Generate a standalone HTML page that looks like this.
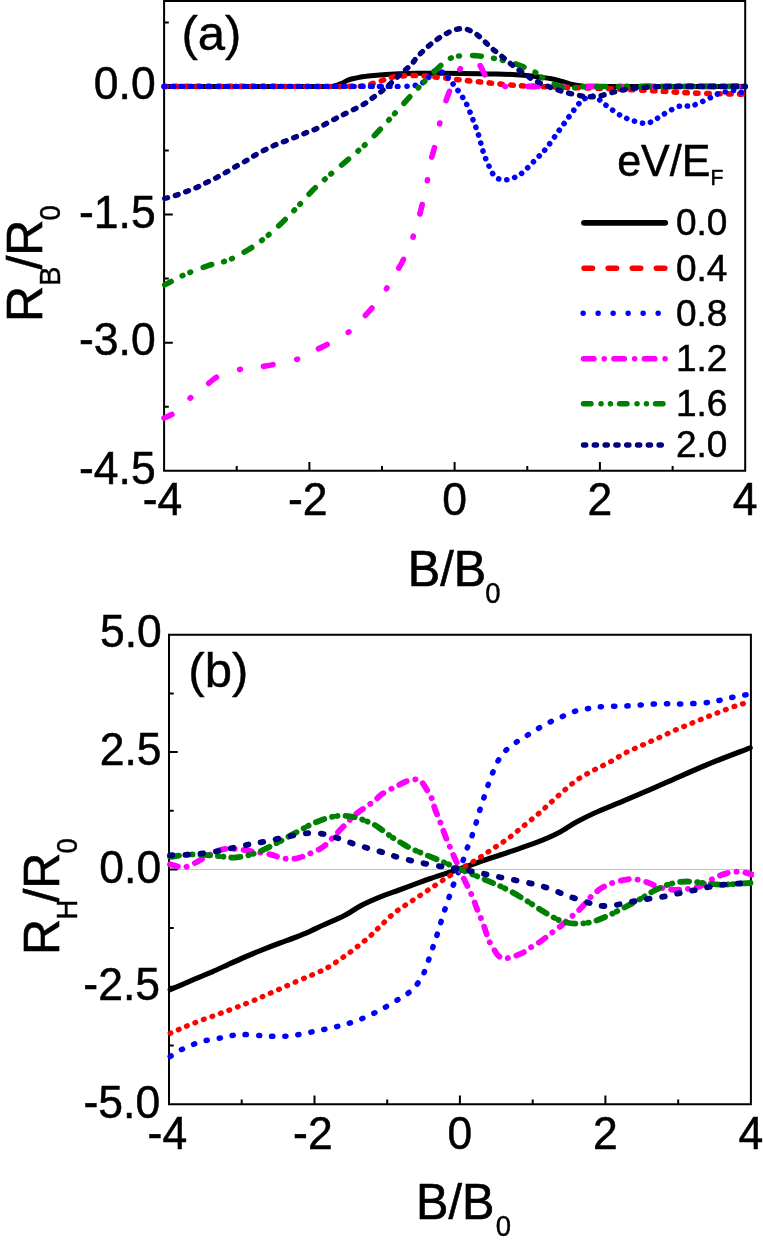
<!DOCTYPE html>
<html><head><meta charset="utf-8"><title>chart</title>
<style>
html,body{margin:0;padding:0;background:#fff;}
body{width:763px;height:1246px;overflow:hidden;}
svg{display:block;will-change:transform;}
text{font-family:"Liberation Sans",sans-serif;fill:#000;}
</style></head><body>
<svg width="763" height="1246" viewBox="0 0 763 1246">
<rect x="0" y="0" width="763" height="1246" fill="#fff"/>

<clipPath id="ca"><rect x="161.1" y="0" width="587.1" height="470.8"/></clipPath>
<g stroke="#000" stroke-width="2.0" fill="none">
<path d="M164.1 1.0H745.2V470.8H164.1Z"/>
<path d="M236.7 470.8v-4.7M309.4 470.8v-8.7M382.0 470.8v-4.7M454.6 470.8v-8.7M527.3 470.8v-4.7M599.9 470.8v-8.7M672.6 470.8v-4.7M164.1 22.5h4.7M164.1 86.5h8.7M164.1 150.6h4.7M164.1 214.6h8.7M164.1 278.6h4.7M164.1 342.7h8.7M164.1 406.8h4.7"/>
</g>
<g clip-path="url(#ca)">
<path d="M164.0 86.4C178.3 86.4 223.2 86.4 250.0 86.4C276.8 86.4 310.8 86.5 325.0 86.4C339.2 86.3 332.2 86.3 335.0 85.8C337.8 85.3 339.7 84.2 342.0 83.2C344.3 82.2 346.5 80.6 348.7 79.8C350.9 79.0 352.4 78.7 355.0 78.2C357.6 77.7 360.8 77.0 364.0 76.6C367.2 76.1 368.2 76.0 374.0 75.5C379.8 75.0 391.6 74.2 399.0 73.8C406.4 73.4 408.4 73.4 418.6 73.3C428.8 73.2 446.9 73.3 460.0 73.4C473.1 73.5 486.4 73.7 497.0 74.0C507.6 74.3 516.5 74.7 523.5 75.2C530.5 75.7 534.3 76.4 539.0 77.0C543.7 77.6 547.7 78.0 551.5 78.8C555.3 79.5 558.3 80.5 562.0 81.5C565.7 82.5 570.2 83.9 573.5 84.7C576.8 85.5 578.9 85.8 582.0 86.1C585.1 86.4 579.0 86.4 592.0 86.4C605.0 86.5 634.5 86.4 660.0 86.4C685.5 86.4 730.8 86.4 745.0 86.4" fill="none" stroke="#000" stroke-width="5.0" stroke-linejoin="round" stroke-linecap="round"/>
<path d="M164.0 86.4C180.0 86.4 228.7 86.4 260.0 86.4C291.3 86.4 334.3 86.6 352.0 86.4C369.7 86.2 361.8 85.9 366.0 85.2C370.2 84.5 373.6 83.3 377.0 82.3C380.4 81.2 383.8 79.8 386.5 78.9C389.2 78.0 390.6 77.5 393.0 77.0C395.4 76.5 398.0 76.2 401.0 76.0C404.0 75.8 406.8 75.5 410.8 75.5C414.8 75.5 420.1 75.7 425.0 76.0C429.9 76.3 433.2 76.8 440.0 77.5C446.8 78.2 457.5 79.6 465.8 80.5C474.1 81.4 482.6 82.2 490.0 83.0C497.4 83.8 502.7 84.4 510.0 85.0C517.3 85.6 521.8 85.9 534.0 86.4C546.2 86.9 564.4 87.2 583.0 87.8C601.6 88.4 627.5 89.4 645.8 90.3C664.1 91.2 676.5 92.3 693.0 93.0C709.5 93.7 736.3 94.0 745.0 94.2" fill="none" stroke="#ff0000" stroke-width="5.6" stroke-linejoin="round" stroke-linecap="round" stroke-dasharray="2.4 8.5"/>
<path d="M164.1 86.4C183.4 86.4 241.0 86.4 280.0 86.4C319.0 86.4 378.3 86.4 398.0 86.4" fill="none" stroke="#0000ff" stroke-width="5.4" stroke-linejoin="round" stroke-linecap="round" stroke-dashoffset="0.9" stroke-dasharray="1.8 7.2"/>
<path d="M407.0 86.3C408.0 86.2 411.2 86.1 413.0 85.8C414.8 85.5 416.5 85.1 418.0 84.6C419.5 84.1 420.7 83.6 422.0 83.0C423.3 82.4 424.8 81.8 425.8 81.0C426.8 80.2 427.2 79.5 428.0 78.5C428.8 77.5 429.5 76.1 430.4 75.0C431.3 73.9 432.4 72.6 433.5 71.8C434.6 71.0 435.6 70.3 436.9 70.3C438.1 70.2 439.7 70.8 441.0 71.5C442.3 72.2 443.6 73.2 444.8 74.2C446.0 75.2 446.9 76.3 448.0 77.5C449.1 78.7 449.8 79.5 451.1 81.2C452.4 83.0 454.6 86.1 456.0 88.0C457.4 89.9 457.9 90.2 459.6 92.8C461.3 95.3 464.0 98.9 466.2 103.3C468.4 107.7 470.7 114.0 472.7 119.0C474.7 124.0 476.2 128.0 478.0 133.4C479.8 138.8 481.5 146.5 483.2 151.7C484.9 156.9 486.4 160.7 488.4 164.8C490.4 169.0 492.4 174.1 495.0 176.6C497.6 179.1 501.1 179.6 504.2 179.8C507.2 180.0 510.2 179.2 513.3 178.0C516.3 176.8 519.0 175.5 522.5 172.7C526.0 169.8 530.4 164.9 534.3 160.9C538.2 156.9 541.7 154.0 546.1 148.5C550.5 143.0 555.5 135.3 560.9 128.0C566.2 120.7 574.0 109.5 578.2 104.5C582.4 99.5 583.6 99.4 586.0 98.0C588.4 96.6 590.4 95.9 592.4 96.0C594.4 96.1 595.9 97.1 598.0 98.5C600.1 99.9 601.2 101.7 605.0 104.5C608.8 107.3 615.9 112.8 620.7 115.5C625.5 118.2 629.8 119.7 634.0 121.0C638.2 122.3 642.5 123.5 645.8 123.4C649.1 123.3 651.4 121.8 654.0 120.5C656.6 119.2 657.6 117.8 661.5 115.5C665.4 113.2 673.2 108.5 677.3 106.9C681.4 105.3 683.4 106.2 686.0 106.0C688.6 105.8 689.2 106.7 693.0 105.5C696.8 104.3 704.5 100.5 708.7 98.6C712.9 96.6 715.2 94.9 718.1 93.8C721.0 92.7 723.4 92.4 726.2 91.8C729.0 91.2 732.7 90.5 735.0 90.4C737.3 90.4 738.4 90.8 740.0 91.5C741.6 92.2 744.0 94.0 744.8 94.5" fill="none" stroke="#0000ff" stroke-width="5.6" stroke-linejoin="round" stroke-linecap="round" stroke-dasharray="0.1 8.1"/>
<path d="M164.0 418.0C165.7 417.2 169.4 416.5 174.0 413.0C178.6 409.5 185.7 402.0 191.5 397.0C197.3 392.0 204.4 386.5 209.0 383.0C213.6 379.5 213.8 378.3 219.0 376.0C224.2 373.7 232.8 371.0 240.0 369.4C247.2 367.8 256.0 367.5 262.0 366.6C268.0 365.7 270.3 365.2 276.0 364.0C281.7 362.8 289.3 361.9 296.0 359.6C302.7 357.3 310.7 352.6 316.0 350.0C321.3 347.4 322.8 346.8 328.0 344.0C333.2 341.2 340.9 338.2 347.5 333.0C354.1 327.8 361.4 320.0 367.6 313.0C373.9 306.0 379.8 298.6 385.0 291.0C390.2 283.4 395.9 272.8 399.0 267.6C402.1 262.4 401.1 264.5 403.3 259.7C405.5 254.9 409.8 245.9 412.4 238.8C415.0 231.7 417.3 223.2 419.0 217.3C420.7 211.4 421.0 209.5 422.4 203.6C423.8 197.7 425.7 189.0 427.1 181.9C428.5 174.8 429.5 166.9 430.8 161.0C432.1 155.1 433.3 152.6 434.7 146.5C436.1 140.4 437.6 131.9 439.4 124.7C441.1 117.5 443.5 108.9 445.2 103.3C446.9 97.7 448.1 94.9 449.6 91.0C451.1 87.1 452.4 83.4 454.0 80.0C455.6 76.6 457.2 73.1 459.0 70.5C460.8 67.9 462.8 65.9 465.0 64.5C467.2 63.1 469.6 62.3 472.0 62.3C474.4 62.3 477.1 62.3 479.3 64.5C481.5 66.7 483.2 72.6 485.3 75.7C487.4 78.8 489.0 81.2 492.0 83.0C495.0 84.8 497.9 85.6 503.4 86.2C508.9 86.8 502.2 86.4 525.0 86.4C547.8 86.4 603.3 86.4 640.0 86.4C676.7 86.4 727.5 86.4 745.0 86.4" fill="none" stroke="#ff00ff" stroke-width="5.6" stroke-linejoin="round" stroke-linecap="round" stroke-dashoffset="1.2" stroke-dasharray="9.9 24.3 0.9 23.1"/>
<path d="M164.7 284.9C166.2 284.1 170.1 282.0 174.0 280.0C177.9 278.0 182.5 275.4 188.3 273.0C194.1 270.6 202.0 267.6 208.8 265.4C215.6 263.2 222.4 262.6 229.2 259.8C236.0 257.0 243.4 252.7 249.7 248.8C256.0 244.9 261.2 240.9 267.0 236.2C272.8 231.5 278.5 226.0 284.3 220.4C290.1 214.8 296.7 207.7 301.6 202.5C306.6 197.3 309.3 193.6 314.0 189.0C318.7 184.4 324.2 179.8 330.0 174.8C335.8 169.8 342.4 164.4 348.7 159.0C355.0 153.6 361.8 147.9 367.6 142.4C373.4 136.9 378.1 131.6 383.3 126.0C388.5 120.4 394.4 113.8 399.0 108.8C403.6 103.8 406.6 100.2 410.8 95.7C415.0 91.2 418.6 87.5 424.0 82.0C429.4 76.5 438.8 67.1 443.5 63.0C448.2 58.9 449.4 58.8 452.0 57.6C454.6 56.4 455.7 56.4 459.0 56.0C462.3 55.6 467.4 55.2 472.0 55.4C476.6 55.6 480.8 56.0 486.8 57.0C492.8 58.0 501.8 60.0 507.8 61.6C513.8 63.2 518.6 65.0 523.0 66.7C527.4 68.4 530.3 69.4 534.0 71.5C537.7 73.6 541.3 77.0 545.0 79.3C548.7 81.5 552.3 83.5 556.0 85.0C559.7 86.5 563.7 87.9 567.0 88.3C570.3 88.7 572.8 87.9 576.0 87.6C579.2 87.3 572.0 86.8 586.0 86.6C600.0 86.4 633.5 86.4 660.0 86.4C686.5 86.4 730.8 86.4 745.0 86.4" fill="none" stroke="#008000" stroke-width="5.6" stroke-linejoin="round" stroke-linecap="round" stroke-dashoffset="1.45" stroke-dasharray="8.9 12.4 0.8 7.7 0.8 13.2"/>
<path d="M164.7 198.5C166.5 198.0 171.9 196.6 175.7 195.4C179.5 194.2 183.6 192.6 187.3 191.2C191.0 189.8 194.4 188.5 197.7 187.0C201.0 185.5 204.0 183.8 207.2 182.2C210.3 180.6 213.5 179.2 216.6 177.6C219.7 175.9 222.8 174.1 226.0 172.3C229.2 170.5 232.2 168.6 235.5 166.7C238.8 164.8 242.9 162.7 246.0 160.8C249.1 159.0 251.2 157.4 254.3 155.6C257.4 153.8 261.4 151.7 264.8 149.9C268.2 148.2 271.4 146.6 274.9 145.1C278.4 143.6 282.2 142.3 285.8 140.9C289.4 139.5 292.8 138.1 296.3 136.7C299.8 135.3 303.3 133.9 306.8 132.5C310.3 131.1 311.8 131.0 317.2 128.3C322.6 125.7 331.9 120.4 339.3 116.6C346.7 112.8 356.0 108.5 361.3 105.6C366.6 102.7 367.9 101.2 371.0 99.0C374.1 96.8 376.8 95.0 380.0 92.5C383.2 90.0 386.5 87.1 390.0 84.0C393.5 80.9 397.4 77.0 400.9 73.8C404.4 70.6 408.1 67.8 410.8 65.0C413.5 62.2 414.8 59.8 417.1 57.2C419.5 54.6 422.2 51.8 424.9 49.3C427.6 46.8 430.4 44.4 433.3 42.2C436.2 40.0 439.0 37.9 442.2 36.0C445.4 34.1 449.1 31.8 452.5 30.6C455.9 29.4 459.3 28.4 462.7 28.6C466.1 28.8 469.6 30.2 472.9 32.0C476.2 33.8 479.4 36.6 482.3 39.1C485.2 41.6 487.4 44.5 490.2 47.0C493.0 49.5 496.0 51.6 498.9 54.0C501.8 56.4 504.6 58.7 507.5 61.1C510.4 63.5 513.2 66.0 516.2 68.2C519.2 70.4 522.9 72.7 525.6 74.5C528.3 76.3 528.3 77.1 532.6 79.3C536.9 81.5 544.2 85.2 551.5 87.8C558.8 90.4 569.3 93.5 576.6 95.0C583.9 96.5 589.2 97.1 595.5 96.6C601.8 96.1 608.6 93.2 614.4 91.9C620.1 90.6 624.1 89.6 630.0 88.8C635.9 88.0 644.8 87.4 650.0 87.0C655.2 86.6 659.6 86.6 661.5 86.5" fill="none" stroke="#000080" stroke-width="5.4" stroke-linejoin="round" stroke-linecap="round" stroke-dasharray="3 8"/>
<path d="M661.5 86.5C667.9 86.5 686.0 86.4 700.0 86.4C714.0 86.4 737.7 86.4 745.2 86.4" fill="none" stroke="#000080" stroke-width="5.8" stroke-linejoin="round" stroke-linecap="round" stroke-dashoffset="-4" stroke-dasharray="3.6 7.6"/>
</g>
<text transform="translate(155.7,99.2) scale(1.0,1.027)" font-size="44.5" text-anchor="end" stroke="#000" stroke-width="0.5">0.0</text>
<text transform="translate(155.7,227.7) scale(1.0,1.027)" font-size="44.5" text-anchor="end" stroke="#000" stroke-width="0.5">-1.5</text>
<text transform="translate(155.7,354.9) scale(1.0,1.027)" font-size="44.5" text-anchor="end" stroke="#000" stroke-width="0.5">-3.0</text>
<text transform="translate(155.7,483.8) scale(1.0,1.027)" font-size="44.5" text-anchor="end" stroke="#000" stroke-width="0.5">-4.5</text>
<text transform="translate(162.5,514.6) scale(1.0,1.027)" font-size="44.5" text-anchor="middle" stroke="#000" stroke-width="0.5">-4</text>
<text transform="translate(307.8,514.6) scale(1.0,1.027)" font-size="44.5" text-anchor="middle" stroke="#000" stroke-width="0.5">-2</text>
<text transform="translate(454.6,514.6) scale(1.0,1.027)" font-size="44.5" text-anchor="middle" stroke="#000" stroke-width="0.5">0</text>
<text transform="translate(599.9,514.6) scale(1.0,1.027)" font-size="44.5" text-anchor="middle" stroke="#000" stroke-width="0.5">2</text>
<text transform="translate(745.2,514.6) scale(1.0,1.027)" font-size="44.5" text-anchor="middle" stroke="#000" stroke-width="0.5">4</text>
<text transform="translate(407.8,585.6) scale(1.03,1.055)" font-size="47.2" text-anchor="start" stroke="#000" stroke-width="0.6">B/B</text>
<text transform="translate(485.2,602.8) scale(1.0,1.07)" font-size="27.5" text-anchor="start" stroke="#000" stroke-width="0.4">0</text>
<g transform="translate(42.3,322.1) rotate(-90)"><text transform="translate(0.0,0.0) scale(1.06,1.075)" font-size="47.2" text-anchor="start" stroke="#000" stroke-width="0.6">R</text><text transform="translate(36.0,18.0) scale(1.06,1.07)" font-size="27.5" text-anchor="start" stroke="#000" stroke-width="0.4">B</text><text transform="translate(52.5,0.0) scale(1.06,1.075)" font-size="47.2" text-anchor="start" stroke="#000" stroke-width="0.6">/R</text><text transform="translate(101.7,18.0) scale(1.0,1.07)" font-size="27.5" text-anchor="start" stroke="#000" stroke-width="0.4">0</text></g>
<text transform="translate(181.4,50.0) scale(1.04,1.023)" font-size="47.2" text-anchor="start" stroke="#000" stroke-width="0.4">(a)</text>
<text transform="translate(617.2,176.4) scale(1.0,1.02)" font-size="43" text-anchor="start" stroke="#000" stroke-width="0.5">eV/E</text>
<text transform="translate(710.5,184.5) scale(1.0,1.04)" font-size="21" text-anchor="start" stroke="#000" stroke-width="0.5">F</text>
<g fill="none" stroke-width="5.4">
<path d="M584.0 222.8H665.2" stroke="#000" stroke-linecap="round" stroke-width="5.8"/>
<path d="M584.0 268.2H668.2" stroke="#ff0000" stroke-linecap="round" stroke-dasharray="8.6 15.5"/>
<path d="M583.1 313.3H668.2" stroke="#0000ff" stroke-linecap="round" stroke-dasharray="0.1 14.9"/>
<path d="M583.5 358.7H669.2" stroke="#ff00ff" stroke-linecap="round" stroke-dasharray="10.5 10.2 0.1 9.6"/>
<path d="M583.5 403.8H666.2" stroke="#008000" stroke-linecap="round" stroke-dasharray="7.5 10 0.1 9.3 0.1 9"/>
<path d="M583.5 445.0H665.2" stroke="#000080" stroke-linecap="round" stroke-dasharray="2.2 8.6"/>
</g>
<text transform="translate(676.0,235.1) scale(1.0,1.0)" font-size="37" text-anchor="start" stroke="#000" stroke-width="0.5">0.0</text>
<text transform="translate(676.0,280.5) scale(1.0,1.0)" font-size="37" text-anchor="start" stroke="#000" stroke-width="0.5">0.4</text>
<text transform="translate(676.0,325.6) scale(1.0,1.0)" font-size="37" text-anchor="start" stroke="#000" stroke-width="0.5">0.8</text>
<text transform="translate(676.0,371.0) scale(1.0,1.0)" font-size="37" text-anchor="start" stroke="#000" stroke-width="0.5">1.2</text>
<text transform="translate(676.0,416.1) scale(1.0,1.0)" font-size="37" text-anchor="start" stroke="#000" stroke-width="0.5">1.6</text>
<text transform="translate(676.0,457.3) scale(1.0,1.0)" font-size="37" text-anchor="start" stroke="#000" stroke-width="0.5">2.0</text>
<clipPath id="cb"><rect x="166.0" y="634.7" width="587.9" height="469.5"/></clipPath>
<path d="M169.0 869.5H750.9" stroke="#c4c4c4" stroke-width="1" fill="none"/>
<g stroke="#000" stroke-width="2.0" fill="none">
<path d="M169.0 634.7H750.9V1104.2H169.0Z"/>
<path d="M241.7 1104.2v-4.7M314.5 1104.2v-8.7M387.2 1104.2v-4.7M459.9 1104.2v-8.7M532.7 1104.2v-4.7M605.4 1104.2v-8.7M678.2 1104.2v-4.7M169.0 693.4h4.7M169.0 752.1h8.7M169.0 810.8h4.7M169.0 869.5h8.7M169.0 928.1h4.7M169.0 986.8h8.7M169.0 1045.5h4.7"/>
</g>
<g clip-path="url(#cb)">
<path d="M170.2 989.7C174.2 988.0 187.0 982.4 194.0 979.4C201.0 976.4 206.5 974.3 212.2 971.8C217.9 969.3 222.6 967.1 228.1 964.6C233.6 962.1 239.3 959.5 245.0 957.0C250.7 954.5 256.4 952.1 262.2 949.8C268.0 947.5 274.3 945.1 280.0 943.0C285.7 940.9 291.1 939.0 296.3 937.0C301.5 935.0 306.5 932.8 311.0 930.8C315.5 928.8 318.0 927.5 323.5 925.0C329.0 922.5 337.8 919.0 344.0 915.8C350.2 912.6 354.8 908.8 361.0 905.6C367.2 902.4 375.2 899.0 381.5 896.4C387.8 893.8 392.2 892.5 398.5 890.2C404.8 887.9 413.4 884.7 419.0 882.6C424.6 880.5 425.6 880.2 432.4 877.9C439.2 875.6 451.2 871.8 460.0 868.8C468.8 865.8 476.4 862.9 484.9 860.0C493.4 857.1 502.3 854.4 511.0 851.4C519.7 848.4 529.4 845.3 537.3 842.2C545.2 839.1 551.8 836.3 558.2 833.0C564.7 829.7 569.9 825.6 576.0 822.3C582.1 819.0 586.2 816.8 594.6 813.0C603.0 809.2 614.5 804.8 626.5 799.7C638.5 794.6 653.1 788.2 666.4 782.4C679.7 776.6 692.3 770.8 706.3 765.0C720.3 759.2 742.9 750.7 750.2 747.8" fill="none" stroke="#000" stroke-width="5.2" stroke-linejoin="round" stroke-linecap="round"/>
<path d="M170.2 1033.3C174.2 1031.6 184.3 1026.9 194.0 1023.1C203.7 1019.3 218.4 1014.2 228.1 1010.5C237.8 1006.8 246.7 1003.3 252.4 1001.0C258.1 998.7 254.9 1000.0 262.2 996.8C269.5 993.6 286.1 986.1 296.3 981.6C306.5 977.1 316.0 973.6 323.5 969.8C331.0 965.9 336.0 962.1 341.3 958.5C346.6 954.9 350.8 951.8 355.5 948.1C360.2 944.4 365.2 940.5 369.7 936.5C374.1 932.5 377.8 928.4 382.2 924.2C386.6 920.0 391.5 915.1 396.4 911.3C401.3 907.5 406.4 904.6 411.5 901.2C416.6 897.8 422.0 894.2 427.2 890.7C432.4 887.2 437.4 883.8 442.9 880.2C448.4 876.6 454.3 872.7 460.0 869.2C465.7 865.7 471.6 862.7 477.0 859.3C482.4 855.9 487.5 852.3 492.7 848.8C497.9 845.3 503.4 842.0 508.4 838.3C513.4 834.6 518.1 830.4 522.9 826.5C527.7 822.6 532.7 818.6 537.3 814.7C541.9 810.8 546.0 806.8 550.4 802.9C554.8 799.0 559.0 795.0 563.5 791.1C568.0 787.2 572.3 783.2 577.3 779.7C582.3 776.2 588.0 773.3 593.3 770.4C598.6 767.5 603.9 765.3 609.2 762.4C614.5 759.5 619.9 755.8 625.2 753.0C630.5 750.2 635.8 748.1 641.1 745.7C646.4 743.3 651.6 741.0 657.1 738.5C662.6 736.0 668.9 733.0 674.4 730.5C679.9 728.0 685.1 726.0 690.4 723.8C695.7 721.6 701.0 719.3 706.3 717.2C711.6 715.1 717.0 713.0 722.3 711.0C727.6 709.0 733.6 706.7 738.2 705.2C742.9 703.7 748.2 702.4 750.2 701.8" fill="none" stroke="#ff0000" stroke-width="5.3" stroke-linejoin="round" stroke-linecap="round" stroke-dasharray="0.8 8.2"/>
<path d="M170.2 1056.5C172.2 1055.3 177.0 1051.8 182.1 1049.3C187.2 1046.8 194.4 1043.7 200.9 1041.8C207.4 1039.9 214.8 1039.0 221.3 1037.8C227.8 1036.6 233.3 1034.9 240.1 1034.6C246.9 1034.2 255.7 1035.4 262.2 1035.7C268.7 1036.0 273.6 1036.6 279.3 1036.5C285.0 1036.4 290.1 1035.9 296.3 1035.0C302.5 1034.1 309.9 1032.3 316.7 1030.9C323.5 1029.5 330.4 1028.2 337.2 1026.5C344.0 1024.8 350.8 1022.9 357.6 1020.4C364.4 1017.9 371.2 1014.7 378.0 1011.2C384.8 1007.7 393.7 1002.2 398.5 999.3C403.3 996.4 404.4 995.9 407.0 994.0C409.6 992.1 411.6 990.5 414.1 987.7C416.6 984.9 419.7 981.1 421.9 977.2C424.1 973.3 425.6 968.5 427.2 964.1C428.8 959.7 430.2 955.1 431.6 951.0C433.0 946.9 434.2 943.4 435.6 939.2C437.0 935.1 438.5 930.5 439.8 926.1C441.1 921.7 442.3 917.4 443.7 913.0C445.1 908.6 446.8 904.0 448.2 899.9C449.6 895.8 450.6 892.2 452.1 888.1C453.6 884.0 455.6 879.4 457.3 875.0C459.1 870.6 461.1 866.1 462.6 861.9C464.1 857.7 465.1 853.9 466.5 850.0C467.9 846.1 469.7 842.6 471.2 838.3C472.7 834.0 474.3 829.0 475.7 824.4C477.1 819.8 478.3 815.0 479.6 810.8C480.9 806.6 482.2 803.0 483.5 799.0C484.8 795.0 486.0 791.1 487.5 786.7C489.0 782.3 490.9 777.1 492.7 772.8C494.4 768.5 495.8 764.7 498.0 761.0C500.2 757.3 502.5 753.8 505.8 750.5C509.1 747.2 513.4 744.2 517.6 741.3C521.8 738.4 526.3 735.9 531.0 733.0C535.7 730.1 540.7 726.8 546.0 724.0C551.3 721.2 557.7 718.6 562.7 716.4C567.7 714.2 571.6 712.3 576.0 711.0C580.4 709.7 584.9 709.1 589.3 708.4C593.7 707.7 596.0 707.0 602.6 706.6C609.2 706.2 620.3 706.2 629.2 705.8C638.1 705.3 647.4 704.2 655.8 703.9C664.2 703.6 671.7 704.0 679.7 703.9C687.7 703.8 697.1 703.6 703.7 703.0C710.4 702.4 714.7 701.4 719.6 700.4C724.5 699.4 728.2 698.2 732.9 697.2C737.5 696.2 744.6 695.1 747.5 694.6C750.4 694.1 750.0 694.1 750.5 694.0" fill="none" stroke="#0000ff" stroke-width="5.5" stroke-linejoin="round" stroke-linecap="round" stroke-dasharray="1.2 12"/>
<path d="M170.0 864.3C171.3 864.7 175.5 866.0 178.0 866.5C180.5 867.0 182.4 867.6 185.2 867.0C188.0 866.4 191.3 864.8 195.0 863.0C198.7 861.2 203.5 858.0 207.2 856.0C210.9 854.0 213.6 852.2 217.0 851.0C220.4 849.8 223.8 849.0 227.6 848.7C231.4 848.5 236.1 849.1 240.0 849.5C243.9 849.9 246.2 850.4 251.2 851.2C256.2 852.0 265.3 853.4 270.1 854.4C274.9 855.4 276.9 856.7 280.0 857.5C283.1 858.3 286.0 858.9 289.0 859.0C292.0 859.1 294.9 858.8 298.0 858.0C301.1 857.2 303.5 856.3 307.8 854.4C312.1 852.5 318.4 850.4 323.6 846.5C328.9 842.6 334.1 836.0 339.3 830.8C344.5 825.5 349.9 819.5 355.0 815.0C360.1 810.5 366.5 806.7 370.0 804.1C373.5 801.5 373.9 801.1 375.9 799.5C377.9 797.9 379.1 796.1 381.8 794.2C384.5 792.3 389.5 789.8 392.3 788.3C395.1 786.8 396.6 786.2 398.8 785.1C401.0 784.0 403.2 782.6 405.4 781.7C407.6 780.8 410.0 780.2 411.9 779.8C413.8 779.4 415.1 779.2 416.5 779.3C417.9 779.4 418.9 779.9 420.0 780.6C421.1 781.4 421.8 782.0 423.1 783.8C424.4 785.6 426.2 788.6 427.7 791.2C429.2 793.8 431.1 796.7 432.3 799.5C433.5 802.3 433.6 805.0 434.6 808.0C435.6 811.0 437.1 814.4 438.2 817.2C439.3 820.0 440.4 822.3 441.4 825.0C442.4 827.7 443.3 830.6 444.4 833.6C445.5 836.6 446.9 840.0 448.0 842.7C449.1 845.4 450.2 847.5 451.3 850.0C452.4 852.5 453.4 855.4 454.5 857.8C455.6 860.2 456.9 862.7 457.8 864.6C458.7 866.5 459.3 867.5 460.0 869.2C460.7 870.9 461.0 872.3 462.0 874.6C463.0 876.9 464.6 880.4 465.9 883.1C467.2 885.8 468.5 888.0 469.8 890.8C471.1 893.6 472.7 897.3 473.8 900.1C474.9 902.9 475.4 904.9 476.4 907.4C477.4 909.9 478.5 912.3 479.7 915.2C480.9 918.1 482.5 922.0 483.6 925.0C484.7 928.0 485.3 930.3 486.2 932.9C487.1 935.5 487.4 937.5 488.8 940.5C490.2 943.5 493.1 948.0 494.7 950.6C496.3 953.2 497.0 954.6 498.7 956.0C500.4 957.4 502.8 958.5 504.6 958.7C506.5 958.9 507.8 957.9 509.8 957.4C511.8 956.9 514.1 956.4 516.4 955.5C518.7 954.6 521.2 953.7 523.6 952.3C526.0 950.9 528.3 948.9 530.8 947.3C533.3 945.7 536.1 944.3 538.6 942.7C541.1 941.1 543.4 939.3 545.8 937.5C548.2 935.7 550.5 933.8 553.1 931.8C555.7 929.8 559.2 927.4 561.5 925.5C563.8 923.6 565.0 922.1 566.7 920.6C568.4 919.1 570.1 917.9 571.9 916.4C573.6 914.9 575.6 913.3 577.2 911.8C578.9 910.3 580.3 908.9 581.8 907.2C583.3 905.6 585.0 903.5 586.4 901.9C587.8 900.3 588.8 898.9 590.3 897.4C591.8 895.9 593.8 894.3 595.5 892.8C597.2 891.3 598.9 889.6 600.8 888.4C602.7 887.2 604.7 886.3 606.7 885.4C608.7 884.5 610.3 883.7 612.6 882.9C614.9 882.1 618.0 881.3 620.4 880.7C622.8 880.1 625.0 879.8 627.0 879.5C629.0 879.2 630.0 878.9 632.3 879.0C634.6 879.1 638.0 879.6 640.9 880.3C643.8 881.0 646.7 882.1 649.6 883.2C652.5 884.3 655.3 886.0 658.2 886.9C661.1 887.8 664.0 888.4 666.9 888.9C669.8 889.4 672.6 889.8 675.5 889.8C678.4 889.8 681.3 889.5 684.2 889.2C687.1 888.9 689.9 888.7 692.8 888.1C695.7 887.5 698.6 886.8 701.5 885.5C704.4 884.2 707.2 881.9 710.1 880.3C713.0 878.7 715.9 877.2 718.8 876.0C721.7 874.8 724.5 873.8 727.4 873.1C730.3 872.4 733.2 871.7 736.1 871.6C739.0 871.5 742.1 872.0 744.7 872.5C747.3 873.0 750.7 874.2 751.9 874.5" fill="none" stroke="#ff00ff" stroke-width="5.8" stroke-linejoin="round" stroke-linecap="round" stroke-dasharray="8.2 8.8 0.2 8.8"/>
<path d="M170.0 856.9C173.6 856.5 183.7 854.5 191.5 854.4C199.3 854.2 209.3 855.5 216.6 856.0C223.9 856.5 229.2 857.9 235.5 857.5C241.8 857.1 248.1 855.5 254.4 853.4C260.7 851.3 266.9 848.1 273.2 845.0C279.5 841.9 285.8 838.0 292.1 834.6C298.4 831.2 305.2 827.2 311.0 824.5C316.8 821.8 321.4 819.7 326.7 818.2C331.9 816.7 337.2 815.7 342.5 815.7C347.8 815.7 353.0 816.7 358.2 818.2C363.4 819.7 369.9 822.5 373.9 824.5C377.9 826.5 379.1 828.0 382.0 830.0C384.9 832.0 388.0 834.5 391.0 836.5C394.0 838.5 396.8 840.3 400.0 842.2C403.2 844.1 406.3 846.2 410.0 848.0C413.7 849.8 416.5 850.9 422.0 853.2C427.5 855.5 436.6 859.2 442.9 861.9C449.2 864.6 454.3 866.8 460.0 869.2C465.7 871.6 471.6 874.0 477.0 876.3C482.4 878.6 487.0 880.4 492.7 882.9C498.4 885.4 504.9 888.2 511.0 891.5C517.1 894.8 523.7 899.0 529.4 902.5C535.1 906.0 539.9 909.4 545.1 912.5C550.4 915.6 555.8 919.0 560.9 920.9C566.0 922.8 570.8 923.5 576.0 923.7C581.2 923.9 586.6 923.2 591.9 921.9C597.2 920.6 602.6 918.1 607.9 915.8C613.2 913.4 618.5 910.5 623.8 907.8C629.1 905.0 634.9 902.0 639.8 899.3C644.7 896.5 648.7 893.6 653.1 891.3C657.5 888.9 662.0 886.8 666.4 885.2C670.8 883.7 675.3 882.6 679.7 882.0C684.1 881.4 688.1 881.4 693.0 881.7C697.9 882.0 703.7 883.3 709.0 883.8C714.3 884.3 719.1 884.7 724.9 884.6C730.7 884.5 739.3 883.6 743.6 883.3C747.9 883.0 749.4 883.0 750.5 883.0" fill="none" stroke="#008000" stroke-width="5.8" stroke-linejoin="round" stroke-linecap="round" stroke-dasharray="9.2 8 0.6 4.4 0.6 8"/>
<path d="M170.0 855.3C173.6 855.1 184.2 855.0 191.5 854.4C198.8 853.8 206.7 853.0 213.5 851.9C220.3 850.8 226.1 849.3 232.4 848.0C238.7 846.7 245.4 845.1 251.2 844.0C257.0 842.9 261.2 842.4 267.0 841.2C272.8 840.0 280.0 838.2 285.8 837.0C291.6 835.8 297.4 834.7 301.6 834.0C305.8 833.3 307.3 833.0 311.0 833.0C314.7 833.0 318.9 833.1 323.6 834.0C328.3 834.9 334.1 836.9 339.3 838.6C344.5 840.3 349.8 842.6 355.0 844.3C360.2 846.0 365.6 847.5 370.8 849.0C376.1 850.5 381.8 852.0 386.5 853.4C391.2 854.8 394.0 856.1 399.0 857.5C404.0 858.9 409.8 860.4 416.7 861.9C423.6 863.4 433.1 865.1 440.3 866.3C447.5 867.5 453.4 868.1 460.0 869.2C466.6 870.3 473.3 871.6 479.6 872.9C485.9 874.2 491.4 875.4 498.0 876.8C504.6 878.1 511.9 879.5 518.9 881.0C525.9 882.5 533.3 883.7 539.9 885.5C546.5 887.3 554.0 890.4 558.2 892.0C562.4 893.6 561.0 893.8 565.3 895.3C569.6 896.8 578.3 899.4 583.9 901.1C589.5 902.8 593.5 905.0 598.6 905.7C603.7 906.4 609.2 905.7 614.5 905.1C619.8 904.5 625.4 902.9 630.5 901.9C635.6 900.9 640.0 900.1 645.1 899.3C650.2 898.5 655.8 898.0 661.1 897.1C666.4 896.2 671.7 894.8 677.0 893.7C682.3 892.6 687.7 891.6 693.0 890.5C698.3 889.4 703.7 888.0 709.0 887.0C714.3 886.0 719.1 885.2 724.9 884.6C730.7 884.0 739.3 883.6 743.6 883.3C747.9 883.0 749.4 883.0 750.5 883.0" fill="none" stroke="#000080" stroke-width="5.8" stroke-linejoin="round" stroke-linecap="round" stroke-dasharray="2.7 12.6"/>
</g>
<text transform="translate(161.8,647.1) scale(1.0,1.027)" font-size="44.5" text-anchor="end" stroke="#000" stroke-width="0.5">5.0</text>
<text transform="translate(161.5,764.9) scale(1.0,1.027)" font-size="44.5" text-anchor="end" stroke="#000" stroke-width="0.5">2.5</text>
<text transform="translate(161.2,883.0) scale(1.0,1.027)" font-size="44.5" text-anchor="end" stroke="#000" stroke-width="0.5">0.0</text>
<text transform="translate(160.0,999.8) scale(1.0,1.027)" font-size="44.5" text-anchor="end" stroke="#000" stroke-width="0.5">-2.5</text>
<text transform="translate(160.2,1117.5) scale(1.0,1.027)" font-size="44.5" text-anchor="end" stroke="#000" stroke-width="0.5">-5.0</text>
<text transform="translate(167.4,1148.6) scale(1.0,1.027)" font-size="44.5" text-anchor="middle" stroke="#000" stroke-width="0.5">-4</text>
<text transform="translate(312.9,1148.6) scale(1.0,1.027)" font-size="44.5" text-anchor="middle" stroke="#000" stroke-width="0.5">-2</text>
<text transform="translate(459.9,1148.6) scale(1.0,1.027)" font-size="44.5" text-anchor="middle" stroke="#000" stroke-width="0.5">0</text>
<text transform="translate(605.4,1148.6) scale(1.0,1.027)" font-size="44.5" text-anchor="middle" stroke="#000" stroke-width="0.5">2</text>
<text transform="translate(750.9,1148.6) scale(1.0,1.027)" font-size="44.5" text-anchor="middle" stroke="#000" stroke-width="0.5">4</text>
<text transform="translate(416.1,1218.9) scale(1.03,1.055)" font-size="47.2" text-anchor="start" stroke="#000" stroke-width="0.6">B/B</text>
<text transform="translate(495.8,1236.3) scale(1.0,1.07)" font-size="27.5" text-anchor="start" stroke="#000" stroke-width="0.4">0</text>
<g transform="translate(59,955.1) rotate(-90)"><text transform="translate(0.0,0.0) scale(1.06,1.075)" font-size="47.2" text-anchor="start" stroke="#000" stroke-width="0.6">R</text><text transform="translate(35.5,18.0) scale(1.0,1.07)" font-size="27.5" text-anchor="start" stroke="#000" stroke-width="0.4">H</text><text transform="translate(52.5,0.0) scale(1.06,1.075)" font-size="47.2" text-anchor="start" stroke="#000" stroke-width="0.6">/R</text><text transform="translate(101.7,18.0) scale(1.0,1.07)" font-size="27.5" text-anchor="start" stroke="#000" stroke-width="0.4">0</text></g>
<text transform="translate(188.3,687.2) scale(1.04,1.023)" font-size="47.2" text-anchor="start" stroke="#000" stroke-width="0.4">(b)</text>
</svg></body></html>
